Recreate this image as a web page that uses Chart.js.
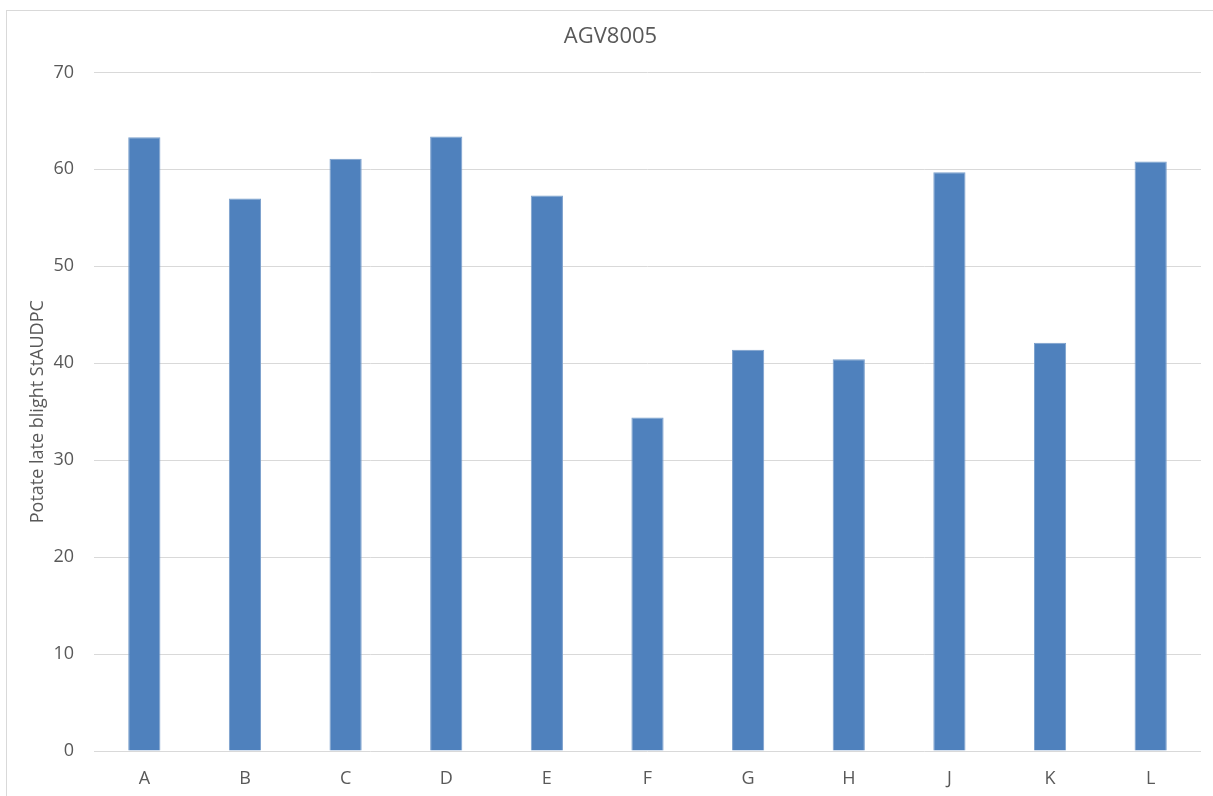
<!DOCTYPE html>
<html>
<head>
<meta charset="utf-8">
<script src="https://cdn.jsdelivr.net/npm/chart.js@4"></script>
<style>
  html, body { margin: 0; padding: 0; background: #fff; }
  #wrap { position: relative; width: 1213px; height: 796px; overflow: hidden; }
  #frame { position: absolute; left: 6px; top: 10px; width: 1230px; height: 820px; border: 1px solid #d9d9d9; }
  canvas { position: absolute; left: 0; top: 0; }
</style>
</head>
<body>
<div id="wrap">
  <div id="frame"></div>
  <canvas id="chart" width="1213" height="796"></canvas>
</div>
<script>
var categories = ['A', 'B', 'C', 'D', 'E', 'F', 'G', 'H', 'J', 'K', 'L'];
var stAUDPC = [63.3, 57.0, 61.1, 63.4, 57.3, 34.4, 41.4, 40.4, 59.7, 42.1, 60.8];
var yTicks = [0, 10, 20, 30, 40, 50, 60, 70];

var textColor = '#595959';
var fontFamily = '"Open Sans", "Noto Sans", sans-serif';

var chart = new Chart(document.getElementById('chart'), {
	type: 'bar',
	data: {
		labels: categories,
		datasets: [
			{
				label: 'StAUDPC',
				data: stAUDPC,
				backgroundColor: '#4F81BD',
				borderColor: '#7A9FCC',
				borderWidth: 1,
				barPercentage: 0.32,
				categoryPercentage: 1.0,
			},
		],
	},
	options: {
		responsive: false,
		animation: false,
		layout: {
			padding: { left: 20, right: 12, top: 0, bottom: 0 },
		},
		plugins: {
			legend: { display: false },
			tooltip: { enabled: false },
			title: {
				display: true,
				text: 'AGV8005',
				color: textColor,
				font: { family: fontFamily, size: 22, weight: 'normal' },
				padding: { top: 24, bottom: 22 },
			},
		},
		scales: {
			x: {
				grid: { display: false, drawTicks: false },
				border: { display: false },
				ticks: {
					color: textColor,
					font: { family: fontFamily, size: 18 },
					padding: 17,
				},
				afterFit: function (scale) {
					scale.height = 45;
				},
			},
			y: {
				min: 0,
				max: 70,
				afterBuildTicks: function (scale) {
					scale.ticks = yTicks.map(function (v) { return { value: v }; });
				},
				grid: { color: '#d9d9d9', lineWidth: 1, drawTicks: false },
				border: { display: false },
				ticks: {
					color: textColor,
					font: { family: fontFamily, size: 18 },
					padding: 20,
				},
				title: {
					display: true,
					text: 'Potate late blight StAUDPC',
					color: textColor,
					font: { family: fontFamily, size: 18 },
					padding: { top: 7, bottom: 0 },
				},
				afterFit: function (scale) {
					scale.width = 74;
				},
			},
		},
	},
});
</script>
</body>
</html>
